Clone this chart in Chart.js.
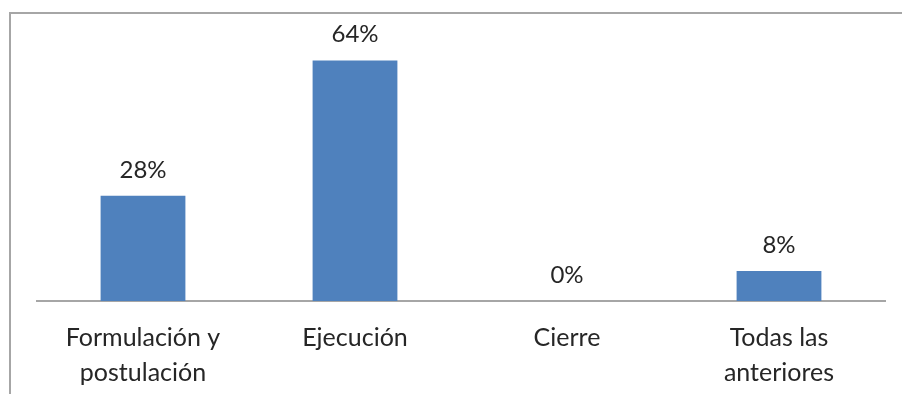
<!DOCTYPE html>
<html>
<head>
<meta charset="utf-8">
<script src="https://cdn.jsdelivr.net/npm/chart.js@4/dist/chart.umd.min.js"></script>
<style>
  html, body { margin: 0; padding: 0; background: #fff; overflow: hidden; }
  #wrap { position: relative; width: 902px; height: 394px; }
  #frame { position: absolute; left: 9px; top: 12px; width: 1000px; height: 500px;
           border-top: 2px solid #a6a6a6; border-left: 2px solid #a6a6a6; }
  canvas { position: absolute; left: 0; top: 0; }
</style>
</head>
<body>
<div id="wrap">
  <div id="frame"></div>
  <canvas id="c" width="902" height="394"></canvas>
</div>
<script>
const categories = [["Formulación y", "postulación"], "Ejecución", "Cierre", ["Todas las", "anteriores"]];
const shares = [0.28, 0.64, 0.00, 0.08];
const shareLabels = ["28%", "64%", "0%", "8%"];

const FONT = "Lato, 'Open Sans', sans-serif";
const TEXT = "#262626";

// Percent labels written above each bar
const valueLabels = {
  id: "valueLabels",
  afterDatasetsDraw(chart) {
    const ctx = chart.ctx;
    const meta = chart.getDatasetMeta(0);
    ctx.save();
    ctx.font = "24px " + FONT;
    ctx.fillStyle = TEXT;
    ctx.textAlign = "center";
    ctx.textBaseline = "middle";
    meta.data.forEach((bar, i) => {
      ctx.fillText(shareLabels[i], bar.x, bar.y - 26);
    });
    ctx.restore();
  }
};

new Chart(document.getElementById("c"), {
  type: "bar",
  data: {
    labels: categories,
    datasets: [{
      data: shares,
      backgroundColor: "#4f81bd",
      borderWidth: 0,
      barPercentage: 0.4,
      categoryPercentage: 1.0
    }]
  },
  options: {
    responsive: false,
    animation: false,
    layout: { padding: { left: 37, right: 17, top: 38, bottom: 0 } },
    plugins: { legend: { display: false }, tooltip: { enabled: false } },
    scales: {
      y: { display: false, min: 0, max: 0.7 },
      x: {
        grid: { display: false, drawTicks: false },
        border: { display: true, color: "#a6a6a6", width: 2 },
        ticks: {
          color: TEXT,
          font: { family: FONT, size: 25, lineHeight: 1.4 },
          padding: 19,
          maxRotation: 0,
          autoSkip: false
        },
        afterFit(scale) { scale.height = 93; }
      }
    }
  },
  plugins: [valueLabels]
});
</script>
</body>
</html>
